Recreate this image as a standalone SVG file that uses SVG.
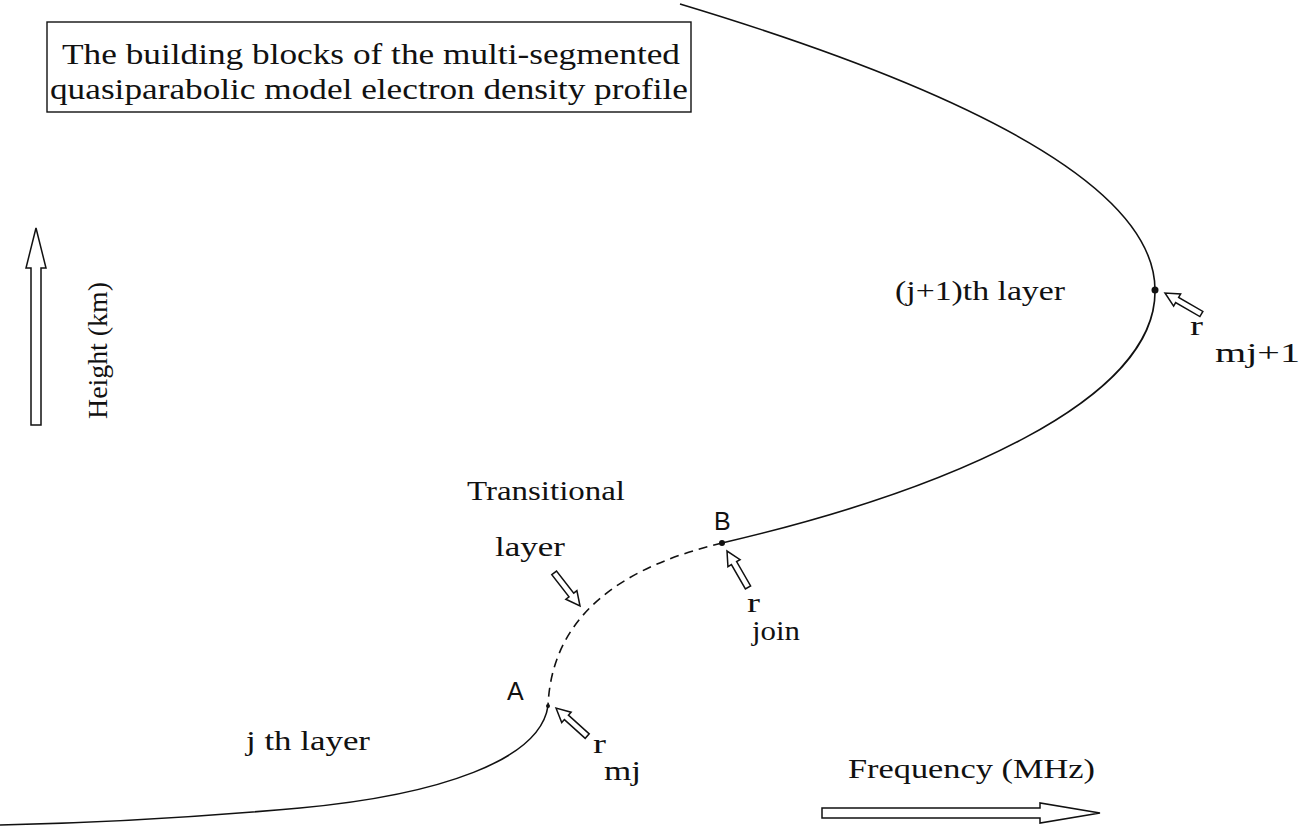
<svg xmlns="http://www.w3.org/2000/svg" width="1305" height="827" viewBox="0 0 1305 827">
  <style>
    .serif { font-family: "Liberation Serif", "Times New Roman", serif; fill: #111; }
    .sans { font-family: "Liberation Sans", Arial, sans-serif; fill: #111; }
    .curve { fill: none; stroke: #111; stroke-width: 1.6; }
    .dash { stroke-dasharray: 9 6; }
    .hollow { fill: #fff; stroke: #111; stroke-width: 1.5; stroke-linejoin: miter; }
  </style>
  <defs>
    <!-- small hollow pointer arrow, tip at origin, pointing along +x -->
    <path id="ptr" d="M 0 0 L -14 -7 L -14 -3 L -42 -3 L -42 3 L -14 3 L -14 7 Z"/>
  </defs>
  <rect width="1305" height="827" fill="#fff"/>

  <!-- title box -->
  <g id="title">
    <rect x="47" y="22" width="644" height="90" fill="none" stroke="#111" stroke-width="1.4"/>
    <text class="serif" x="62" y="64" font-size="29" textLength="618" lengthAdjust="spacingAndGlyphs">The building blocks of the multi-segmented</text>
    <text class="serif" x="50" y="99" font-size="29" textLength="638" lengthAdjust="spacingAndGlyphs">quasiparabolic model electron density profile</text>
  </g>

  <!-- height axis -->
  <g id="height-axis">
    <path class="hollow" d="M 36 228 L 46 268 L 41 268 L 41 425 L 31 425 L 31 268 L 26 268 Z"/>
    <text class="serif" font-size="28" transform="translate(107 419) rotate(-90)" textLength="137" lengthAdjust="spacingAndGlyphs">Height (km)</text>
  </g>

  <!-- frequency axis -->
  <g id="frequency-axis">
    <path class="hollow" d="M 1100 813 L 1040 803 L 1040 808 L 822 808 L 822 818 L 1040 818 L 1040 823 Z"/>
    <text class="serif" x="848" y="778" font-size="28" textLength="247" lengthAdjust="spacingAndGlyphs">Frequency (MHz)</text>
  </g>

  <!-- profile curve -->
  <g id="connectors">
    <path class="curve" d="M 680 4 Q 1155 147 1155 290"/>
    <path class="curve" d="M 1155 290 C 1157 400 950 490 722 543"/>
    <path class="curve dash" d="M 722 543 C 630 565 552 610 548 706"/>
    <path class="curve" d="M 548 706 C 540 760 440 795 300 808 C 200 817 100 823 0 825"/>
  </g>

  <g id="layer-j1">
    <text class="serif" x="895" y="300" font-size="28" textLength="170" lengthAdjust="spacingAndGlyphs">(j+1)th layer</text>
  </g>

  <g id="peak-j1">
    <circle cx="1155" cy="290" r="3.5" fill="#111"/>
    <use href="#ptr" class="hollow" transform="translate(1165 293) rotate(210)"/>
    <text class="serif" x="1190" y="335" font-size="28" textLength="13" lengthAdjust="spacingAndGlyphs">r</text>
    <text class="serif" x="1215" y="362" font-size="28" textLength="85" lengthAdjust="spacingAndGlyphs">mj+1</text>
  </g>

  <g id="transitional">
    <text class="serif" x="467" y="500" font-size="28" textLength="158" lengthAdjust="spacingAndGlyphs">Transitional</text>
    <text class="serif" x="495" y="556" font-size="28" textLength="70" lengthAdjust="spacingAndGlyphs">layer</text>
    <use href="#ptr" class="hollow" transform="translate(580 606) rotate(52)"/>
  </g>

  <g id="point-b">
    <circle cx="722" cy="543" r="3" fill="#111"/>
    <text class="sans" x="714" y="530" font-size="25">B</text>
    <use href="#ptr" class="hollow" transform="translate(727 551) rotate(240)"/>
    <text class="serif" x="747" y="612" font-size="28" textLength="13" lengthAdjust="spacingAndGlyphs">r</text>
    <text class="serif" x="752" y="640" font-size="28" textLength="48" lengthAdjust="spacingAndGlyphs">join</text>
  </g>

  <g id="point-a">
    <circle cx="548" cy="706" r="2" fill="#111"/>
    <text class="sans" x="507" y="700" font-size="25">A</text>
    <use href="#ptr" class="hollow" transform="translate(556 708) rotate(222)"/>
    <text class="serif" x="593" y="753" font-size="28" textLength="13" lengthAdjust="spacingAndGlyphs">r</text>
    <text class="serif" x="604" y="780" font-size="28" textLength="37" lengthAdjust="spacingAndGlyphs">mj</text>
  </g>

  <g id="layer-j">
    <text class="serif" x="246" y="750" font-size="28" textLength="124" lengthAdjust="spacingAndGlyphs">j th layer</text>
  </g>
</svg>
